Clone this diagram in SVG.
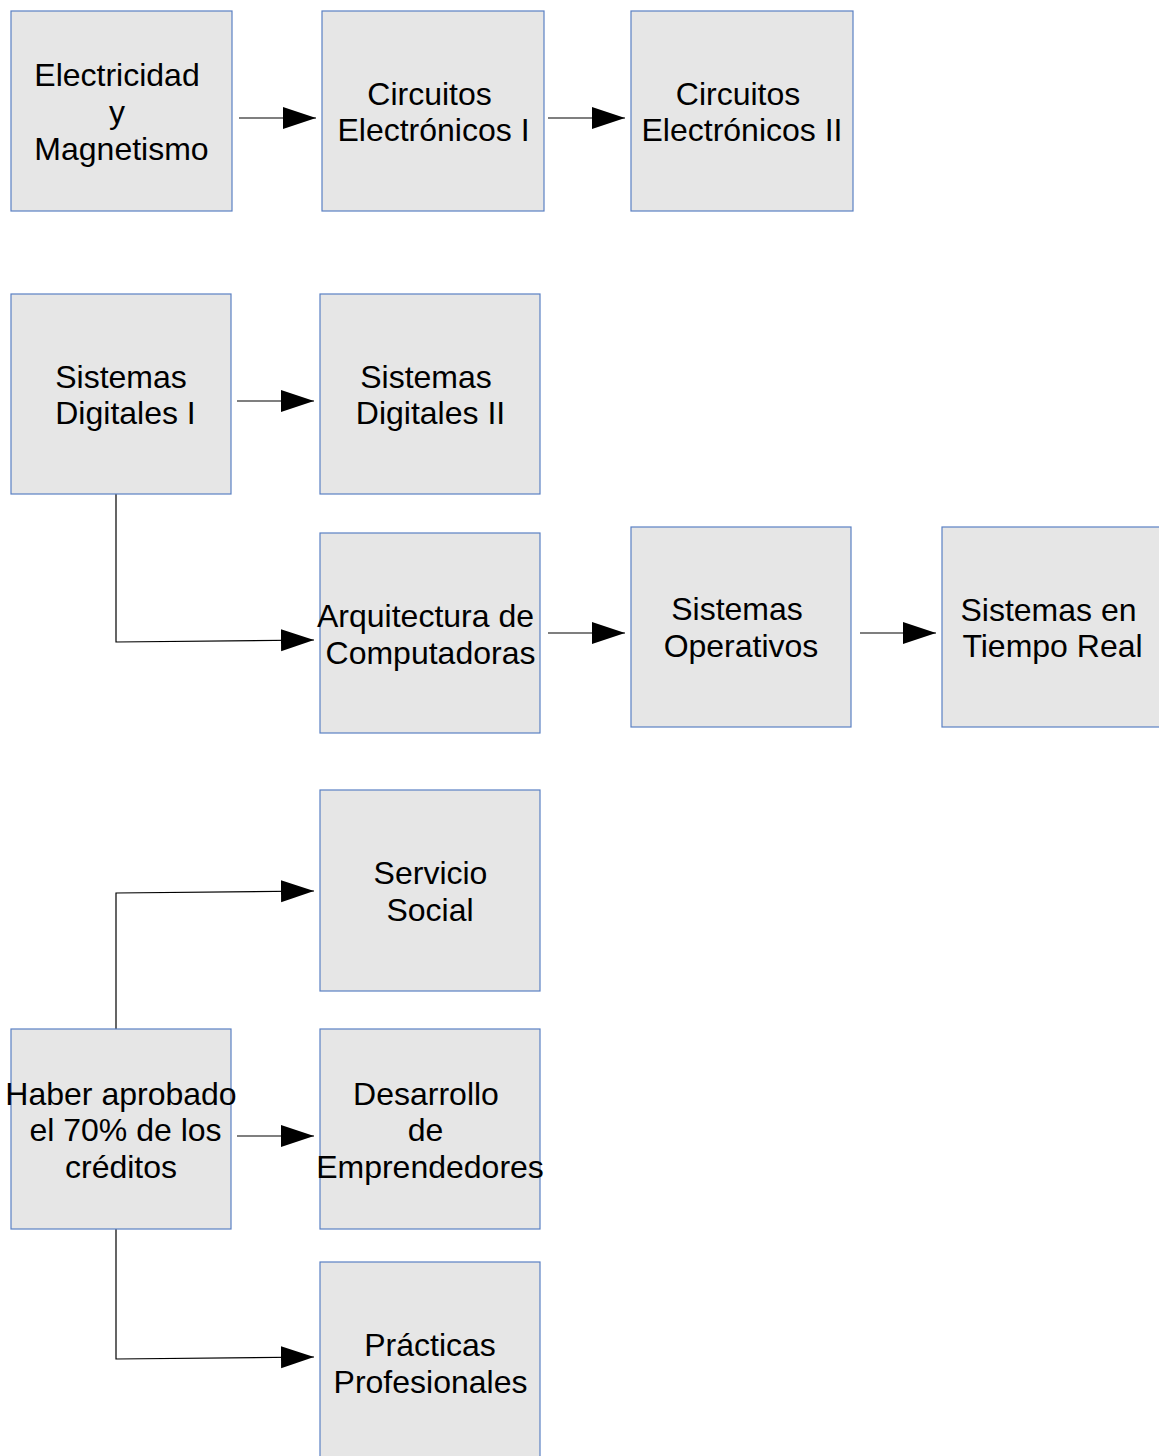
<svg xmlns="http://www.w3.org/2000/svg" width="1159" height="1456" viewBox="0 0 1159 1456">
<style>
.box{fill:#e6e6e6;stroke:#5a80c4;stroke-width:1.2}
.t{font-family:"Liberation Sans",Arial,sans-serif;font-size:32px;fill:#000;text-anchor:middle}
.c{fill:none;stroke:#000;stroke-width:1.2;marker-end:url(#ah)}
</style>
<defs>
<marker id="ah" markerUnits="userSpaceOnUse" markerWidth="34" markerHeight="24" refX="33" refY="11" orient="auto">
<path d="M0,0 L33,11 L0,22 Z" fill="#000"/>
</marker>
</defs>
<rect width="1159" height="1456" fill="#fff"/>
<g id="connectors">
<path class="c" d="M239,118 H316"/>
<path class="c" d="M548,118 H625"/>
<path class="c" d="M237,401 H314"/>
<path class="c" d="M116,494 V642 L314,640"/>
<path class="c" d="M548,633 H625"/>
<path class="c" d="M860,633 H936"/>
<path class="c" d="M116,1029 V893 L314,891"/>
<path class="c" d="M237,1136 H314"/>
<path class="c" d="M116,1229 V1359 L314,1357"/>
</g>
<g id="electricidad"><rect class="box" x="11" y="11" width="221" height="200"/>
<text class="t"><tspan x="117" y="86">Electricidad</tspan><tspan x="117" y="123">y</tspan><tspan x="121.5" y="160">Magnetismo</tspan></text></g>
<g id="circuitos1"><rect class="box" x="322" y="11" width="222" height="200"/>
<text class="t"><tspan x="429.5" y="105">Circuitos</tspan><tspan x="433.5" y="141">Electrónicos I</tspan></text></g>
<g id="circuitos2"><rect class="box" x="631" y="11" width="222" height="200"/>
<text class="t"><tspan x="738" y="105">Circuitos</tspan><tspan x="742" y="141">Electrónicos II</tspan></text></g>
<g id="digitales1"><rect class="box" x="11" y="294" width="220" height="200"/>
<text class="t"><tspan x="121" y="388">Sistemas</tspan><tspan x="125.5" y="424">Digitales I</tspan></text></g>
<g id="digitales2"><rect class="box" x="320" y="294" width="220" height="200"/>
<text class="t"><tspan x="426" y="388">Sistemas</tspan><tspan x="430.5" y="424">Digitales II</tspan></text></g>
<g id="arquitectura"><rect class="box" x="320" y="533" width="220" height="200"/>
<text class="t"><tspan x="425.5" y="627">Arquitectura de</tspan><tspan x="430.5" y="664">Computadoras</tspan></text></g>
<g id="operativos"><rect class="box" x="631" y="527" width="220" height="200"/>
<text class="t"><tspan x="737" y="620">Sistemas</tspan><tspan x="741" y="657">Operativos</tspan></text></g>
<g id="tiemporeal"><rect class="box" x="942" y="527" width="222" height="200"/>
<text class="t"><tspan x="1048.5" y="621">Sistemas en</tspan><tspan x="1052.5" y="657">Tiempo Real</tspan></text></g>
<g id="servicio"><rect class="box" x="320" y="790" width="220" height="201"/>
<text class="t"><tspan x="430.5" y="884">Servicio</tspan><tspan x="430" y="921">Social</tspan></text></g>
<g id="haber"><rect class="box" x="11" y="1029" width="220" height="200"/>
<text class="t"><tspan x="121" y="1105">Haber aprobado</tspan><tspan x="125.5" y="1141">el 70% de los</tspan><tspan x="121" y="1178">créditos</tspan></text></g>
<g id="desarrollo"><rect class="box" x="320" y="1029" width="220" height="200"/>
<text class="t"><tspan x="426" y="1105">Desarrollo</tspan><tspan x="425.5" y="1141">de</tspan><tspan x="430" y="1178">Emprendedores</tspan></text></g>
<g id="practicas"><rect class="box" x="320" y="1262" width="220" height="200"/>
<text class="t"><tspan x="430" y="1356">Prácticas</tspan><tspan x="430.5" y="1393">Profesionales</tspan></text></g>
</svg>
